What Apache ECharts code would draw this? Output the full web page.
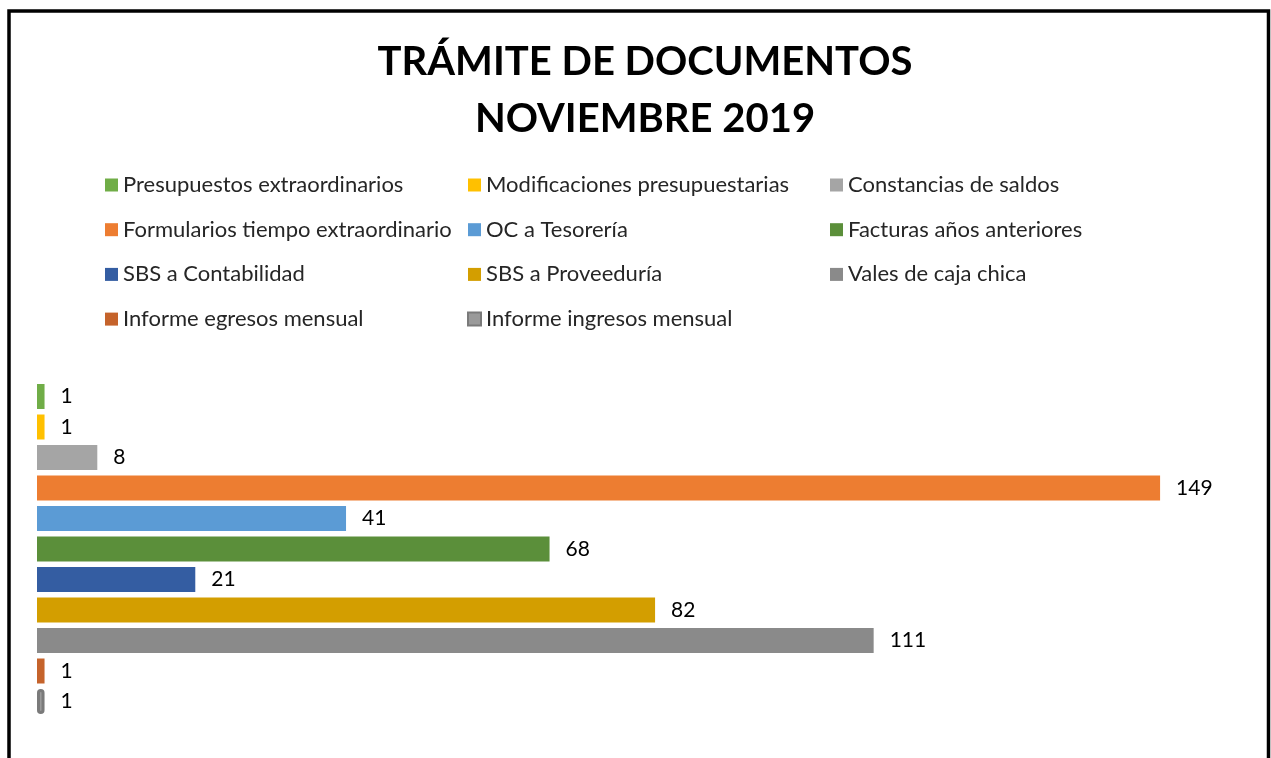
<!DOCTYPE html>
<html>
<head>
<meta charset="utf-8">
<script src="https://cdn.jsdelivr.net/npm/echarts@6/dist/echarts.min.js"></script>
<style>
  html, body { margin: 0; padding: 0; background: #fff; }
  #chart { width: 1271px; height: 758px; }
</style>
</head>
<body>
<div id="chart"></div>
<script>
var nombres = [
  'Presupuestos extraordinarios',
  'Modificaciones presupuestarias',
  'Constancias de saldos',
  'Formularios tiempo extraordinario',
  'OC a Tesorería',
  'Facturas años anteriores',
  'SBS a Contabilidad',
  'SBS a Proveeduría',
  'Vales de caja chica',
  'Informe egresos mensual',
  'Informe ingresos mensual'
];
var valores = [1, 1, 8, 149, 41, 68, 21, 82, 111, 1, 1];
var colores = ['#70AD47', '#FFC000', '#A5A5A5', '#ED7D31', '#5B9BD5', '#5B8F3A',
               '#345DA2', '#D39E00', '#8A8A8A', '#C5632B', '#7F7F7F'];

// columnas de la leyenda
var col1 = [nombres[0], nombres[3], nombres[6], nombres[9]];
var col2 = [nombres[1], nombres[4], nombres[7], nombres[10]];
var col3 = [nombres[2], nombres[5], nombres[8]];

var fuente = 'Lato';

function leyenda(datos, x) {
  return {
    orient: 'vertical',
    left: x,
    top: 169,
    padding: 5,
    itemWidth: 13,
    itemHeight: 13,
    itemGap: 22.7,
    icon: 'rect',
    data: datos,
    selectedMode: false,
    textStyle: { fontFamily: fuente, fontSize: 22, color: '#262626', lineHeight: 22 }
  };
}

var series = nombres.map(function (n, i) {
  var s = {
    name: n,
    type: 'bar',
    data: [valores[i]],
    barWidth: 25,
    barGap: '22%',
    itemStyle: { color: colores[i] },
    label: {
      show: true,
      position: 'right',
      distance: 16,
      fontFamily: fuente,
      fontSize: 21,
      color: '#000'
    }
  };
  if (i === 10) {
    s.itemStyle = { color: '#9a9a9a', borderColor: '#7a7a7a', borderWidth: 3, borderRadius: 3 };
  }
  return s;
});

var chart = echarts.init(document.getElementById('chart'));
chart.setOption({
  animation: false,
  title: {
    text: 'TRÁMITE DE DOCUMENTOS\nNOVIEMBRE 2019',
    left: 640,
    textAlign: 'center',
    top: 29,
    textStyle: { fontFamily: fuente, fontSize: 40, fontWeight: 'bold', color: '#000', lineHeight: 57 }
  },
  legend: [leyenda(col1, 100), leyenda(col2, 462), leyenda(col3, 825)],
  grid: { left: 37, width: 1206, top: 380, height: 338 },
  xAxis: { type: 'value', min: 0, max: 160, show: false },
  yAxis: { type: 'category', data: [''], show: false, inverse: true },
  series: series,
  graphic: [{
    type: 'rect',
    shape: { x: 9, y: 11, width: 1259.5, height: 800 },
    style: { fill: 'none', stroke: '#000', lineWidth: 3.5 },
    silent: true
  }]
});
</script>
</body>
</html>
